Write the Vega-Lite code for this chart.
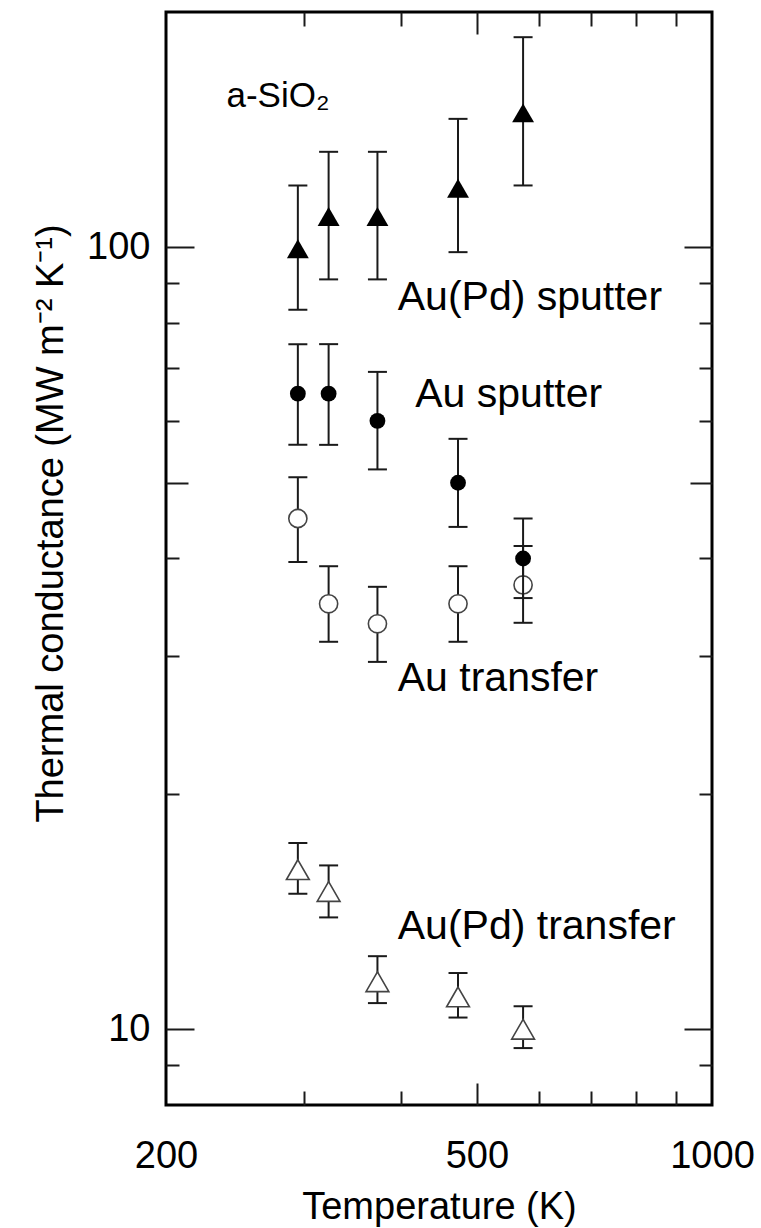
{
  "$schema": "https://vega.github.io/schema/vega-lite/v6.json",
  "width": 546,
  "height": 1093,
  "autosize": {"type": "none"},
  "padding": {"left": 166, "top": 12, "right": 49, "bottom": 123},
  "config": {
    "view": {"stroke": "black", "strokeWidth": 3},
    "font": "Liberation Sans",
    "axis": {"grid": false, "domain": false, "tickColor": "#1a1a1a", "tickWidth": 2, "labelColor": "black", "titleColor": "black", "labelFont": "Liberation Sans", "titleFont": "Liberation Sans", "titleFontWeight": "normal", "labelFontSize": 38}
  },
  "datasets": {
    "points": [
      {"series": "Au(Pd) sputter", "T": 295, "G": 99.6, "lo": 83.2, "hi": 120},
      {"series": "Au(Pd) sputter", "T": 323, "G": 109.5, "lo": 91, "hi": 132.5},
      {"series": "Au(Pd) sputter", "T": 373, "G": 109.5, "lo": 91, "hi": 132.5},
      {"series": "Au(Pd) sputter", "T": 473, "G": 119, "lo": 98.6, "hi": 146},
      {"series": "Au(Pd) sputter", "T": 573, "G": 148.6, "lo": 120, "hi": 185.7},
      {"series": "Au sputter", "T": 295, "G": 65, "lo": 55.9, "hi": 75.2},
      {"series": "Au sputter", "T": 323, "G": 65, "lo": 55.9, "hi": 75.2},
      {"series": "Au sputter", "T": 373, "G": 60, "lo": 52, "hi": 69.3},
      {"series": "Au sputter", "T": 473, "G": 50, "lo": 43.9, "hi": 56.9},
      {"series": "Au sputter", "T": 573, "G": 40, "lo": 35.6, "hi": 45},
      {"series": "Au transfer", "T": 295, "G": 45, "lo": 39.6, "hi": 50.8},
      {"series": "Au transfer", "T": 323, "G": 35, "lo": 31.3, "hi": 39.1},
      {"series": "Au transfer", "T": 373, "G": 33, "lo": 29.5, "hi": 36.8},
      {"series": "Au transfer", "T": 473, "G": 35, "lo": 31.3, "hi": 39.1},
      {"series": "Au transfer", "T": 573, "G": 37, "lo": 33.1, "hi": 41.5},
      {"series": "Au(Pd) transfer", "T": 295, "G": 16.0, "lo": 14.9, "hi": 17.3},
      {"series": "Au(Pd) transfer", "T": 323, "G": 15.0, "lo": 13.9, "hi": 16.2},
      {"series": "Au(Pd) transfer", "T": 373, "G": 11.5, "lo": 10.8, "hi": 12.4},
      {"series": "Au(Pd) transfer", "T": 473, "G": 11.0, "lo": 10.35, "hi": 11.8},
      {"series": "Au(Pd) transfer", "T": 573, "G": 10.0, "lo": 9.46, "hi": 10.7}
    ],
    "labels": [
      {"text": "a-SiO₂", "T": 239, "G": 151, "kind": "material"},
      {"text": "Au(Pd) sputter", "T": 396, "G": 83.2, "kind": "series"},
      {"text": "Au sputter", "T": 417, "G": 62.5, "kind": "series"},
      {"text": "Au transfer", "T": 396, "G": 27.1, "kind": "series"},
      {"text": "Au(Pd) transfer", "T": 396, "G": 13.05, "kind": "series"}
    ]
  },
  "resolve": {"axis": {"x": "independent", "y": "independent"}},
  "layer": [
    {
      "data": {"name": "points"},
      "transform": [{"filter": "indexof(datum.series, 'transfer') >= 0"}],
      "mark": {"type": "rule", "color": "#1a1a1a", "strokeWidth": 2},
      "encoding": {
        "x": {"field": "T", "type": "quantitative", "scale": {"type": "log", "domain": [200, 1000], "nice": false, "zero": false},
          "axis": {"orient": "bottom", "values": [200, 500, 1000], "format": "d", "ticks": false, "domain": false, "labelPadding": 32, "labelFlush": false, "labelOverlap": false, "labelBound": false, "title": "Temperature (K)", "titleFontSize": 38, "titleY": 113, "titleBaseline": "alphabetic"}},
        "y": {"field": "lo", "type": "quantitative", "scale": {"type": "log", "domain": [8, 200], "nice": false, "zero": false},
          "axis": {"orient": "left", "values": [10, 100], "format": "d", "ticks": false, "domain": false, "labelPadding": 16, "labelOverlap": false, "labelBound": false, "labelFlush": false, "title": "Thermal conductance (MW m⁻² K⁻¹)", "titleFontSize": 38, "titleX": -104, "titleY": 511, "titleAngle": 270, "titleBaseline": "alphabetic", "titleAlign": "center"}},
        "y2": {"field": "hi"}
      }
    },
    {
      "data": {"name": "points"},
      "transform": [{"filter": "datum.series === 'Au transfer'"}],
      "mark": {"type": "point", "shape": "circle", "filled": true, "fill": "white", "stroke": "#444", "strokeWidth": 1.6, "size": 330, "opacity": 1},
      "encoding": {
        "x": {"field": "T", "type": "quantitative", "scale": {"type": "log", "domain": [200, 1000], "nice": false, "zero": false},
          "axis": {"orient": "bottom", "values": [300, 400, 600, 700, 800, 900], "labels": false, "domain": false, "tickSize": 14, "offset": -14, "title": null}},
        "y": {"field": "G", "type": "quantitative", "scale": {"type": "log", "domain": [8, 200], "nice": false, "zero": false},
          "axis": {"orient": "left", "values": [10, 100], "labels": false, "domain": false, "tickSize": 28, "offset": -28, "title": null}}
      }
    },
    {
      "data": {"name": "points"},
      "transform": [{"filter": "datum.series === 'Au(Pd) transfer'"}],
      "mark": {"type": "point", "shape": "triangle-up", "filled": true, "fill": "white", "stroke": "#444", "strokeWidth": 1.6, "size": 520, "opacity": 1},
      "encoding": {
        "x": {"field": "T", "type": "quantitative", "scale": {"type": "log", "domain": [200, 1000], "nice": false, "zero": false},
          "axis": {"orient": "bottom", "values": [500], "labels": false, "domain": false, "tickSize": 22, "offset": -22, "title": null}},
        "y": {"field": "G", "type": "quantitative", "scale": {"type": "log", "domain": [8, 200], "nice": false, "zero": false},
          "axis": {"orient": "left", "values": [50], "labels": false, "domain": false, "tickSize": 22, "offset": -22, "title": null}}
      }
    },
    {
      "data": {"name": "points"},
      "transform": [{"filter": "indexof(datum.series, 'sputter') >= 0"}],
      "mark": {"type": "rule", "color": "#1a1a1a", "strokeWidth": 2},
      "encoding": {
        "x": {"field": "T", "type": "quantitative", "scale": {"type": "log", "domain": [200, 1000], "nice": false, "zero": false},
          "axis": {"orient": "top", "values": [300, 400, 600, 700, 800, 900], "labels": false, "domain": false, "tickSize": 14, "offset": -14, "title": null}},
        "y": {"field": "lo", "type": "quantitative", "scale": {"type": "log", "domain": [8, 200], "nice": false, "zero": false},
          "axis": {"orient": "left", "values": [9, 20, 30, 40, 60, 70, 80, 90], "labels": false, "domain": false, "tickSize": 13, "offset": -13, "title": null}},
        "y2": {"field": "hi"}
      }
    },
    {
      "data": {"name": "points"},
      "mark": {"type": "tick", "orient": "horizontal", "size": 19, "thickness": 2, "color": "#1a1a1a", "opacity": 1},
      "encoding": {
        "x": {"field": "T", "type": "quantitative", "scale": {"type": "log", "domain": [200, 1000], "nice": false, "zero": false},
          "axis": {"orient": "top", "values": [500], "labels": false, "domain": false, "tickSize": 22, "offset": -22, "title": null}},
        "y": {"field": "lo", "type": "quantitative", "scale": {"type": "log", "domain": [8, 200], "nice": false, "zero": false},
          "axis": {"orient": "right", "values": [10, 100], "labels": false, "domain": false, "tickSize": 28, "offset": -28, "title": null}}
      }
    },
    {
      "data": {"name": "points"},
      "mark": {"type": "tick", "orient": "horizontal", "size": 19, "thickness": 2, "color": "#1a1a1a", "opacity": 1},
      "encoding": {
        "x": {"field": "T", "type": "quantitative", "scale": {"type": "log", "domain": [200, 1000], "nice": false, "zero": false}, "axis": null},
        "y": {"field": "hi", "type": "quantitative", "scale": {"type": "log", "domain": [8, 200], "nice": false, "zero": false},
          "axis": {"orient": "right", "values": [50], "labels": false, "domain": false, "tickSize": 22, "offset": -22, "title": null}}
      }
    },
    {
      "data": {"name": "points"},
      "transform": [{"filter": "datum.series === 'Au sputter'"}],
      "mark": {"type": "point", "shape": "circle", "filled": true, "color": "black", "strokeWidth": 0, "size": 250, "opacity": 1},
      "encoding": {
        "x": {"field": "T", "type": "quantitative", "scale": {"type": "log", "domain": [200, 1000], "nice": false, "zero": false}, "axis": null},
        "y": {"field": "G", "type": "quantitative", "scale": {"type": "log", "domain": [8, 200], "nice": false, "zero": false},
          "axis": {"orient": "right", "values": [9, 20, 30, 40, 60, 70, 80, 90], "labels": false, "domain": false, "tickSize": 13, "offset": -13, "title": null}}
      }
    },
    {
      "data": {"name": "points"},
      "transform": [{"filter": "datum.series === 'Au(Pd) sputter'"}],
      "mark": {"type": "point", "shape": "triangle-up", "filled": true, "color": "black", "strokeWidth": 0, "size": 480, "opacity": 1},
      "encoding": {
        "x": {"field": "T", "type": "quantitative", "scale": {"type": "log", "domain": [200, 1000], "nice": false, "zero": false}, "axis": null},
        "y": {"field": "G", "type": "quantitative", "scale": {"type": "log", "domain": [8, 200], "nice": false, "zero": false}, "axis": null}
      }
    },
    {
      "data": {"name": "labels"},
      "transform": [{"filter": "datum.kind === 'series'"}],
      "mark": {"type": "text", "align": "left", "baseline": "alphabetic", "fontSize": 41, "font": "Liberation Sans", "color": "black"},
      "encoding": {
        "x": {"field": "T", "type": "quantitative", "scale": {"type": "log", "domain": [200, 1000], "nice": false, "zero": false}, "axis": null},
        "y": {"field": "G", "type": "quantitative", "scale": {"type": "log", "domain": [8, 200], "nice": false, "zero": false}, "axis": null},
        "text": {"field": "text"}
      }
    },
    {
      "data": {"name": "labels"},
      "transform": [{"filter": "datum.kind === 'material'"}],
      "mark": {"type": "text", "align": "left", "baseline": "alphabetic", "fontSize": 35, "font": "Liberation Sans", "color": "black"},
      "encoding": {
        "x": {"field": "T", "type": "quantitative", "scale": {"type": "log", "domain": [200, 1000], "nice": false, "zero": false}, "axis": null},
        "y": {"field": "G", "type": "quantitative", "scale": {"type": "log", "domain": [8, 200], "nice": false, "zero": false}, "axis": null},
        "text": {"field": "text"}
      }
    }
  ]
}
